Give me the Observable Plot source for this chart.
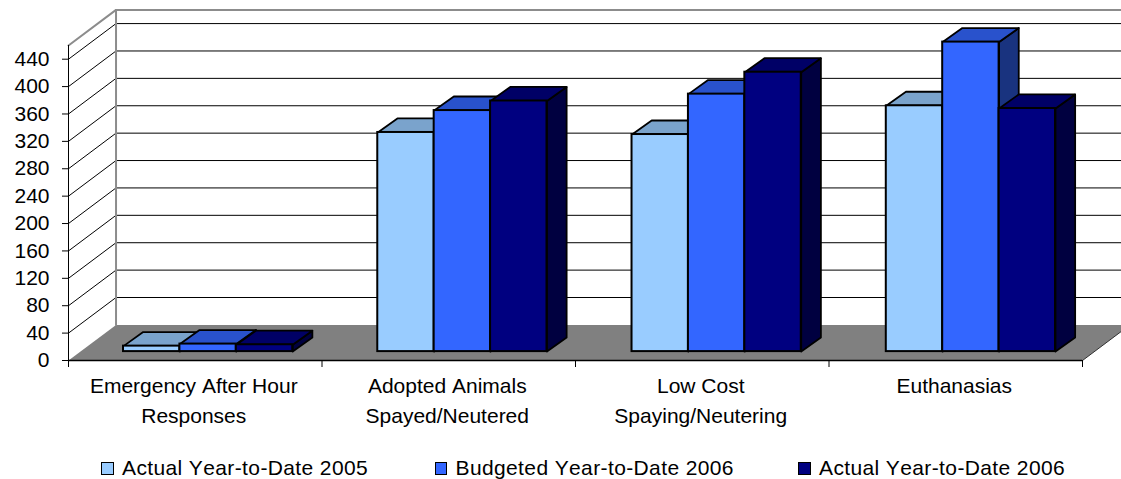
<!DOCTYPE html>
<html>
<head>
<meta charset="utf-8">
<script src="https://cdn.jsdelivr.net/npm/d3@7"></script>
<script src="https://cdn.jsdelivr.net/npm/@observablehq/plot@0.6"></script>
<style>
  html, body { margin: 0; padding: 0; background: #fff; }
  #wrap { position: relative; width: 1121px; height: 479px; overflow: hidden; font-family: "Liberation Sans", Arial, sans-serif; color: #000; }
  #wrap svg { display: block; }
  .key { position: absolute; top: 456px; height: 24px; line-height: 24px; font-size: 21px; white-space: nowrap; font-kerning: none; letter-spacing: 0.38px; }
  .key i { position: absolute; left: -21px; top: 6px; width: 10.5px; height: 10.5px; border: 1.5px solid #000; }
</style>
</head>
<body>
<div id="wrap"></div>
<script>
// Data
const categories = [
  "Emergency After Hour\nResponses",
  "Adopted Animals\nSpayed/Neutered",
  "Low Cost\nSpaying/Neutering",
  "Euthanasias"
];
const seriesNames = ["Actual Year-to-Date 2005", "Budgeted Year-to-Date 2006", "Actual Year-to-Date 2006"];
const actual2005 = [8, 320, 317, 359];
const budgeted2006 = [11, 352, 376, 452];
const actual2006 = [10, 366, 408, 355];
const seriesValues = [actual2005, budgeted2006, actual2006];
const yTicks = [0, 40, 80, 120, 160, 200, 240, 280, 320, 360, 400, 440];
const xBoundaries = [0, 1, 2, 3, 4];

// Colours
const frontColors = ["#99CCFF", "#3366FF", "#000080"];
const topColors = ["#7AA3CC", "#2952CC", "#000066"];
const sideColors = ["#5C7A99", "#19337F", "#000040"];
const floorColor = "#808080";
const wallColor = "#8c8c8c";

// 3-D projection of the chart box, expressed in scale units
const wallTop = 460;
const depthX = 0.1875, depthY = 52;   // depth of the whole box
const barDepthX = 0.0775, barDepthY = 20.5; // depth of one bar
const barBase = 13;     // bars stand this far back on the floor
const groupStep = 1.003, barStart = 0.217, barWidth = 0.2225;

const poly = (id, pts) => [...pts, pts[0]].map(([x, y]) => ({id, x, y}));
const path = (id, pts) => pts.map(([x, y]) => ({id, x, y}));

const grid = yTicks.slice(1).flatMap(v => path("g" + v, [[0, v], [depthX, v + depthY], [4 + depthX, v + depthY]]));
const floor = poly("floor", [[0, 0], [4, 0], [4 + depthX, depthY], [depthX, depthY]]);
const walls = path("wall", [[depthX, depthY], [depthX, wallTop + depthY]])
  .concat(path("wall2", [[0, wallTop], [depthX, wallTop + depthY], [4 + depthX, wallTop + depthY]]));

const barMarks = seriesValues.flatMap((values, s) => {
  const bars = values.map((v, c) => {
    const x1 = c * groupStep + barStart + s * barWidth, x2 = x1 + barWidth;
    return {x1, x2, y1: barBase, y2: barBase + v};
  });
  const tops = bars.flatMap((b, c) => poly("t" + c, [
    [b.x1, b.y2], [b.x2, b.y2], [b.x2 + barDepthX, b.y2 + barDepthY], [b.x1 + barDepthX, b.y2 + barDepthY]
  ]));
  const sides = bars.flatMap((b, c) => poly("s" + c, [
    [b.x2, b.y1], [b.x2, b.y2], [b.x2 + barDepthX, b.y2 + barDepthY], [b.x2 + barDepthX, b.y1 + barDepthY]
  ]));
  return [
    Plot.line(sides, {x: "x", y: "y", z: "id", fill: sideColors[s], stroke: "#000", strokeWidth: 1.8, strokeLinejoin: "round", curve: "linear"}),
    Plot.line(tops, {x: "x", y: "y", z: "id", fill: topColors[s], stroke: "#000", strokeWidth: 1.8, strokeLinejoin: "round", curve: "linear"}),
    Plot.rect(bars, {x1: "x1", x2: "x2", y1: "y1", y2: "y2", fill: frontColors[s], stroke: "#000", strokeWidth: 2})
  ];
});

const labelData = categories.map((label, i) => ({label, x: i + 0.5}));

const chart = Plot.plot({
  width: 1121,
  height: 452,
  marginLeft: 68,
  marginRight: 39,
  marginTop: 58.7,
  marginBottom: 92,
  x: {domain: [0, 4], axis: null},
  y: {domain: [0, 440], axis: null},
  style: {background: "#fff", fontFamily: "'Liberation Sans', Arial, sans-serif", color: "#000", fontKerning: "none"},
  marks: [
    Plot.line(grid, {x: "x", y: "y", z: "id", stroke: "#000", strokeWidth: 1, curve: "linear"}),
    Plot.line(floor, {x: "x", y: "y", z: "id", fill: floorColor, stroke: "none", curve: "linear"}),
    Plot.line(walls, {x: "x", y: "y", z: "id", stroke: wallColor, strokeWidth: 2, curve: "linear"}),
    Plot.line(path("edge", [[4, 0], [4 + depthX, depthY]]), {x: "x", y: "y", stroke: "#333", strokeWidth: 1, curve: "linear"}),
    Plot.ruleY([0], {x1: 0, x2: 4, stroke: "#000", strokeWidth: 1.5}),
    Plot.ruleX([0], {y1: 0, y2: wallTop, stroke: "#000", strokeWidth: 1}),
    ...barMarks,
    Plot.axisY({ticks: yTicks, tickSize: 6, tickPadding: 13, fontSize: 21, label: null, tickFormat: d => String(d)}),
    Plot.axisX({ticks: xBoundaries, tickSize: 7, tickFormat: () => "", label: null}),
    Plot.text(labelData, {x: "x", y: () => 0, text: "label", fontSize: 21, lineAnchor: "top", lineHeight: 1.43, dy: 11.5, dx: -1.5, letterSpacing: 0.6})
  ]
});

const wrap = document.getElementById("wrap");
wrap.appendChild(chart);
const keyLefts = [122, 455.5, 819];
seriesNames.forEach((name, i) => {
  const k = document.createElement("div");
  k.className = "key";
  k.style.left = keyLefts[i] + "px";
  k.textContent = name;
  const sw = document.createElement("i");
  sw.style.background = frontColors[i];
  k.appendChild(sw);
  wrap.appendChild(k);
});
</script>
</body>
</html>
